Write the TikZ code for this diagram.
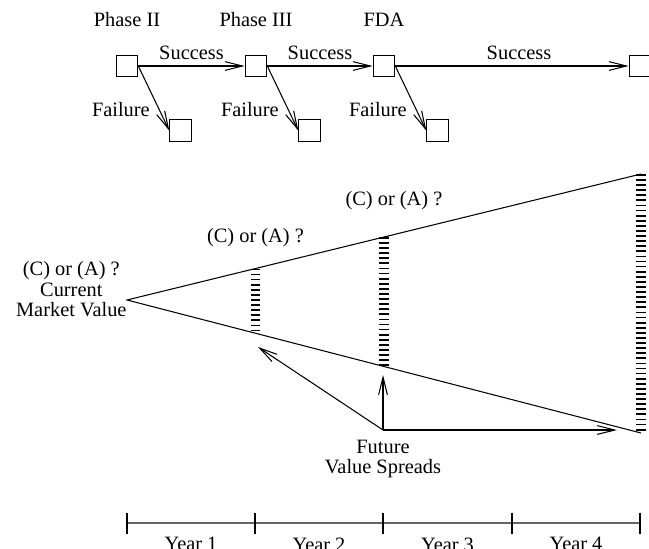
\documentclass[tikz,border=0pt]{standalone}
\usepackage{fontspec}
\setmainfont{Liberation Serif}
\usetikzlibrary{positioning,calc,arrows.meta}

\begin{document}
\begin{tikzpicture}[x=0.02cm, y=-0.02cm, line width=0.6pt,
		font=\fontsize{11.6}{11.4}\selectfont,
		stage/.style={draw, minimum size=4.3mm, inner sep=0pt},
		lbl/.style={inner sep=0pt},
		flow/.style={-{Straight Barb[length=10pt,width=5pt]}},
		hatch/.style={line width=5.5pt, dash pattern=on 1pt off 1.9pt},
		axis/.style={draw=black!60}]
	\useasboundingbox (0,0) rectangle (649,548);
	\clip (0,0) rectangle (649,548);
	% trial stages
	\node[stage] (p2) at (127,66) {};
	\node[stage] (p3) at (256,66) {};
	\node[stage] (fda) at (384,66) {};
	\node[stage] (win) at (640,66) {};
	\node[stage, below right=8.4mm and 6.2mm of p2] (f2) {};
	\node[stage, below right=8.4mm and 6.2mm of p3] (f3) {};
	\node[stage, below right=8.4mm and 6.2mm of fda] (ffda) {};
	\node[lbl, above=5.6mm of p2] (lp2) {Phase II};
	\node[lbl, above=5.6mm of p3] (lp3) {Phase III};
	\node[lbl, above=5.6mm of fda] (lfda) {FDA};
	\draw[flow] (p2) -- node[lbl, above=1.2mm] (s2) {Success} (p3);
	\draw[flow] (p3) -- node[lbl, above=1.2mm] (s3) {Success} (fda);
	\draw[flow] (fda) -- node[lbl, above=1.2mm, pos=0.53] (sfda) {Success} (win);
	\draw[flow] (p2.east) -- node[lbl, pos=0.67, left=5pt] (x2) {Failure} (f2.west);
	\draw[flow] (p3.east) -- node[lbl, pos=0.67, left=5pt] (x3) {Failure} (f3.west);
	\draw[flow] (fda.east) -- node[lbl, pos=0.67, left=5pt] (xfda) {Failure} (ffda.west);

	% value cone
	\coordinate (apex) at (127,300);
	\coordinate (uend) at (641,174);
	\coordinate (lend) at (641,433);
	\draw (uend) -- (apex) -- (lend);
	\coordinate (h1) at ($(apex)!0.25!(uend)$);
	\coordinate (h1b) at ($(apex)!0.25!(lend)$);
	\coordinate (h2) at ($(apex)!0.5!(uend)$);
	\coordinate (h2b) at ($(apex)!0.5!(lend)$);
	\draw[hatch] (h1) -- (h1b);
	\draw[hatch] (h2) -- (h2b);
	\draw[hatch] (uend) -- (lend);
	\node[lbl, align=center, anchor=east] (cmv) at (apex) {Current\\Market Value};
	\node[lbl, above=1.5pt of cmv] (q0) {(C) or (A) ?};
	\node[lbl, above=4.3mm of h1] (q1) {(C) or (A) ?};
	\node[lbl, above=5.4mm of h2, xshift=2mm] (q2) {(C) or (A) ?};

	% spreads
	\coordinate (fv) at (383,430);
	\coordinate (fvup) at (383,375);
	\coordinate (fvleft) at (258,347);
	\coordinate (fvright) at (617,430);
	\draw[flow] (fv) -- (fvup);
	\draw[flow] (fv) -- (fvleft);
	\draw[flow] (fv) -- (fvright);
	\node[lbl, align=center, below=2mm of fv] (fvs) {Future\\Value Spreads};

	% time axis
	\foreach \i/\x in {0/127,1/255,2/383,3/512,4/640}
		\coordinate (t\i) at (\x,523);
	\draw[axis] (t0) -- (t4);
	\foreach \i in {0,...,4}
		\draw ($(t\i)+(0,-10.5)$) -- ($(t\i)+(0,10.5)$);
	\foreach \a/\b in {0/1,1/2,2/3,3/4}
		\path (t\a) -- node[lbl, below=2.8mm] (y\b) {Year \b} (t\b);
\end{tikzpicture}
\end{document}
